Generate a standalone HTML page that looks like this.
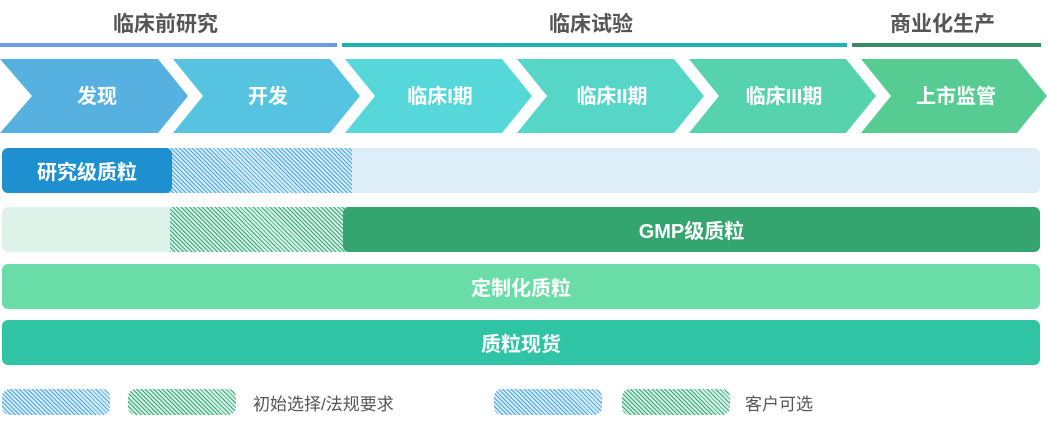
<!DOCTYPE html>
<html><head><meta charset="utf-8"><style>
body{margin:0;width:1049px;height:445px;background:#fff;position:relative;overflow:hidden;font-family:"Liberation Sans","Noto Sans CJK SC",sans-serif}
.a{position:absolute}
.h{font-size:21px;color:#555;font-weight:bold;top:8px}
.ln{height:4px;top:43px}
.bar{position:absolute;height:45px;display:flex;align-items:center;justify-content:center;color:#fff;font-weight:bold;font-size:20px}
.hb{background:repeating-linear-gradient(45deg,#4aa8dc 0 1px,#d6ebf7 1px 3px)}
.hg{background:repeating-linear-gradient(45deg,#3aa77a 0 1px,#d4efe3 1px 3px)}
.lg{position:absolute;top:389px;height:26px;width:108px;border-radius:8px}
.lt{position:absolute;top:390px;font-size:17px;color:#555}
</style></head><body>
<div class="a h" style="left:113px">临床前研究</div>
<div class="a h" style="left:549px">临床试验</div>
<div class="a h" style="left:890px">商业化生产</div>
<div class="a ln" style="left:0;width:337px;background:#6a9be6"></div>
<div class="a ln" style="left:342px;width:505px;background:#1fb2b8"></div>
<div class="a ln" style="left:852px;width:189px;background:#3a8a66"></div>
<svg class="a" style="left:0;top:0" width="1049" height="140">
<g font-family="Liberation Sans,Noto Sans CJK SC,sans-serif" font-size="20" font-weight="bold" fill="#fff" text-anchor="middle">
<polygon points="0,59 158,59 188,96 158,133 0,133 32,96" fill="#56b1e0"/>
<polygon points="173,59 330,59 360,96 330,133 173,133 203,96" fill="#56c4e0"/>
<polygon points="345,59 502,59 532,96 502,133 345,133 375,96" fill="#56d8da"/>
<polygon points="517,59 674,59 704,96 674,133 517,133 547,96" fill="#56d6c6"/>
<polygon points="689,59 846,59 876,96 846,133 689,133 719,96" fill="#56d2ac"/>
<polygon points="861,59 1017,59 1047,96 1017,133 861,133 891,96" fill="#56cc92"/>
<text x="97" y="103">发现</text>
<text x="268" y="103">开发</text>
<text x="440" y="103">临床I期</text>
<text x="612" y="103">临床II期</text>
<text x="784" y="103">临床III期</text>
<text x="956" y="103">上市监管</text>
</g></svg>
<div class="bar" style="left:2px;top:148px;width:1038px;background:#ddeef8;border-radius:6px"></div>
<div class="bar hb" style="left:160px;top:148px;width:192px"></div>
<div class="bar" style="left:2px;top:148px;width:170px;background:#1e90d0;border-radius:6px">研究级质粒</div>
<div class="bar" style="left:2px;top:207px;width:1038px;background:#ddf3ea;border-radius:6px"></div>
<div class="bar hg" style="left:170px;top:207px;width:190px"></div>
<div class="bar" style="left:343px;top:207px;width:697px;background:#34a56f;border-radius:6px">GMP级质粒</div>
<div class="bar" style="left:2px;top:264px;width:1038px;background:#6adca8;border-radius:6px">定制化质粒</div>
<div class="bar" style="left:2px;top:320px;width:1038px;background:#2fc4a4;border-radius:6px">质粒现货</div>
<div class="lg hb" style="left:2px"></div>
<div class="lg hg" style="left:128px"></div>
<div class="lt" style="left:253px">初始选择/法规要求</div>
<div class="lg hb" style="left:494px"></div>
<div class="lg hg" style="left:622px"></div>
<div class="lt" style="left:745px">客户可选</div>
</body></html>
